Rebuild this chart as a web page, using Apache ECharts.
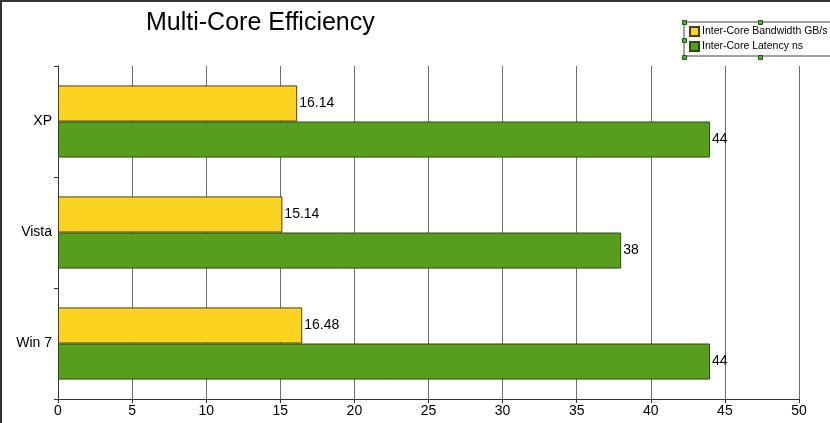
<!DOCTYPE html>
<html>
<head>
<meta charset="utf-8">
<script src="https://cdn.jsdelivr.net/npm/echarts@6/dist/echarts.min.js"></script>
<style>
html,body{margin:0;padding:0;background:#fff;}
#main{width:830px;height:423px;}
</style>
</head>
<body>
<div id="main"></div>
<script>
const categories = ['XP', 'Vista', 'Win 7'];
const bandwidthGBs = [16.14, 15.14, 16.48];
const latencyNs = [44, 38, 44];
const xTicks = [0, 5, 10, 15, 20, 25, 30, 35, 40, 45, 50];
const seriesNames = ['Inter-Core Bandwidth GB/s', 'Inter-Core Latency ns'];

const chart = echarts.init(document.getElementById('main'), null, {renderer: 'canvas'});
const font = 'Arial, "Liberation Sans", sans-serif';
const labelStyle = {show: true, position: 'right', distance: 2, color: '#000', fontSize: 14, fontFamily: font};

function handle(x, y) {
  return {type: 'rect', left: x - 2, top: y - 2, shape: {width: 4, height: 4},
          style: {fill: '#4caf3a', stroke: '#1e5a10', lineWidth: 1}, silent: true, z: 100};
}

chart.setOption({
  animation: false,
  backgroundColor: '#fff',
  title: {
    text: 'Multi-Core Efficiency',
    left: 141, top: 6,
    textStyle: {fontFamily: font, fontSize: 25, fontWeight: 'normal', color: '#000'}
  },
  legend: {
    orient: 'vertical',
    left: 684, top: 22,
    padding: [4, 20, 4, 5],
    itemGap: 4,
    itemWidth: 9, itemHeight: 9,
    borderColor: '#444', borderWidth: 1,
    icon: 'rect',
    textStyle: {fontFamily: font, fontSize: 10.5, color: '#000', padding: [0, 0, 0, -2]},
    data: seriesNames
  },
  grid: {left: 58, right: 31, top: 66, bottom: 24},
  xAxis: {
    type: 'value', min: xTicks[0], max: xTicks[xTicks.length - 1], interval: 5,
    axisLine: {show: true, lineStyle: {color: '#333', width: 1}},
    axisTick: {show: true, length: 4, lineStyle: {color: '#333'}},
    axisLabel: {color: '#000', fontSize: 14, fontFamily: font, margin: 5},
    splitLine: {show: true, lineStyle: {color: '#6e6e6e', width: 1}}
  },
  yAxis: {
    type: 'category', data: categories, inverse: true,
    axisLine: {show: true, lineStyle: {color: '#333', width: 1}},
    axisTick: {show: true, length: 4, inside: false, lineStyle: {color: '#333'}},
    axisLabel: {color: '#000', fontSize: 14, fontFamily: font, margin: 6},
    splitLine: {show: false}
  },
  series: [
    {
      name: seriesNames[0], type: 'bar', data: bandwidthGBs,
      barGap: '0%', barCategoryGap: '35%',
      itemStyle: {color: '#FDD322', borderColor: '#4a4010', borderWidth: 1},
      label: labelStyle
    },
    {
      name: seriesNames[1], type: 'bar', data: latencyNs,
      barGap: '0%', barCategoryGap: '35%',
      itemStyle: {color: '#589E1E', borderColor: '#2a4a10', borderWidth: 1},
      label: labelStyle
    }
  ],
  graphic: [
    {type: 'rect', left: 0, top: 0, shape: {width: 2, height: 423}, style: {fill: '#333'}, silent: true},
    {type: 'rect', left: 0, top: 0, shape: {width: 830, height: 2}, style: {fill: '#333'}, silent: true},
    handle(684, 22), handle(684, 40), handle(684, 57), handle(760, 22), handle(760, 57)
  ]
});
</script>
</body>
</html>
